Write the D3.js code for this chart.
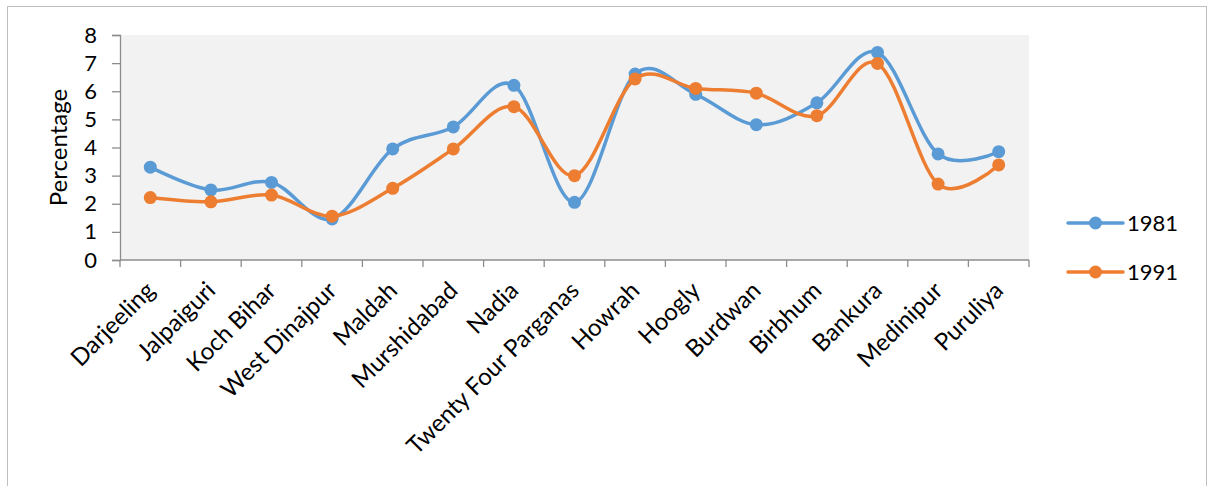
<!DOCTYPE html>
<html>
<head>
<meta charset="utf-8">
<script src="https://cdn.jsdelivr.net/npm/d3@7"></script>
<style>
  html, body { margin: 0; padding: 0; background: #ffffff; }
  svg { display: block; font-family: Lato, "Open Sans", sans-serif; }
</style>
</head>
<body>
<svg id="chart" width="1208" height="486"></svg>
<script>
// Districts of West Bengal
const districts = ["Darjeeling", "Jalpaiguri", "Koch Bihar", "West Dinajpur", "Maldah",
  "Murshidabad", "Nadia", "Twenty Four Parganas", "Howrah", "Hoogly", "Burdwan",
  "Birbhum", "Bankura", "Medinipur", "Puruliya"];

// Percentage share per census year
const values1981 = [3.30, 2.49, 2.76, 1.46, 3.95, 4.73, 6.21, 2.05, 6.61, 5.89, 4.81, 5.59, 7.38, 3.77, 3.85];
const values1991 = [2.22, 2.07, 2.31, 1.56, 2.55, 3.95, 5.45, 3.00, 6.44, 6.10, 5.93, 5.13, 6.99, 2.70, 3.38];

const yTicks = [0, 1, 2, 3, 4, 5, 6, 7, 8];

const series = [
  { name: "1981", values: values1981, color: "#5B9BD5" },
  { name: "1991", values: values1991, color: "#ED7D31" }
];

const svg = d3.select("#chart");

// outer chart frame
svg.append("rect")
  .attr("x", 7.5).attr("y", 6.5)
  .attr("width", 1199).attr("height", 490)
  .attr("fill", "#ffffff")
  .attr("stroke", "#BFBFBF")
  .attr("stroke-width", 1);

const plot = { left: 120, right: 1029, top: 35, bottom: 260 };

const x = d3.scaleBand()
  .domain(districts)
  .range([plot.left, plot.right])
  .padding(0);

const y = d3.scaleLinear()
  .domain([0, 8])
  .range([plot.bottom, plot.top]);

// plot area background
svg.append("rect")
  .attr("x", plot.left).attr("y", plot.top)
  .attr("width", plot.right - plot.left)
  .attr("height", plot.bottom - plot.top)
  .attr("fill", "#F2F2F2");

// y axis
const yAxis = svg.append("g")
  .attr("transform", `translate(${plot.left},0)`)
  .call(d3.axisLeft(y).tickValues(yTicks).tickSize(8).tickPadding(15).tickFormat(d3.format("d")));
yAxis.select(".domain").attr("stroke", "#8C8C8C").attr("stroke-width", 1.3);
yAxis.selectAll(".tick line").attr("stroke", "#8C8C8C").attr("stroke-width", 1.3);
yAxis.selectAll(".tick text")
  .attr("font-size", 22)
  .attr("fill", "#000")
  .attr("font-family", "Lato, sans-serif");

// x axis: ticks sit on the band edges
const xAxis = svg.append("g")
  .attr("transform", `translate(0,${plot.bottom})`);
xAxis.append("line")
  .attr("x1", plot.left).attr("x2", plot.right)
  .attr("y1", 0).attr("y2", 0)
  .attr("stroke", "#8C8C8C").attr("stroke-width", 1.5);
const edges = districts.map(d => x(d)).concat([x(districts[districts.length - 1]) + x.bandwidth()]);
xAxis.selectAll("line.edge")
  .data(edges)
  .join("line")
  .attr("class", "edge")
  .attr("x1", d => d).attr("x2", d => d)
  .attr("y1", 0).attr("y2", 7)
  .attr("stroke", "#8C8C8C").attr("stroke-width", 1.3);

// category labels, rotated
svg.append("g")
  .selectAll("text")
  .data(districts)
  .join("text")
  .attr("transform", d => `translate(${x(d) + x.bandwidth() / 2 + 6},${plot.bottom + 32}) rotate(-45)`)
  .attr("text-anchor", "end")
  .attr("font-size", 24)
  .attr("fill", "#000")
  .text(d => d);

// y axis title
svg.append("text")
  .attr("transform", `translate(67,${(plot.top + plot.bottom) / 2}) rotate(-90)`)
  .attr("text-anchor", "middle")
  .attr("font-size", 24)
  .attr("fill", "#000")
  .text("Percentage");

// smoothed lines with markers
const line = d3.line()
  .x((d, i) => x(districts[i]) + x.bandwidth() / 2)
  .y(d => y(d))
  .curve(d3.curveCatmullRom.alpha(0));

series.forEach(s => {
  const g = svg.append("g");
  g.append("path")
    .datum(s.values)
    .attr("d", line)
    .attr("fill", "none")
    .attr("stroke", s.color)
    .attr("stroke-width", 3.5)
    .attr("stroke-linejoin", "round");
  g.selectAll("circle")
    .data(s.values)
    .join("circle")
    .attr("cx", (d, i) => x(districts[i]) + x.bandwidth() / 2)
    .attr("cy", d => y(d))
    .attr("r", 6.5)
    .attr("fill", s.color);
});

// legend
const legend = svg.append("g");
const legendY = [223, 272];
series.forEach((s, i) => {
  const g = legend.append("g").attr("transform", `translate(0,${legendY[i]})`);
  g.append("line")
    .attr("x1", 1068).attr("x2", 1123)
    .attr("y1", 0).attr("y2", 0)
    .attr("stroke", s.color).attr("stroke-width", 3.5)
    .attr("stroke-linecap", "round");
  g.append("circle")
    .attr("cx", 1095.5).attr("cy", 0).attr("r", 6.5)
    .attr("fill", s.color);
  g.append("text")
    .attr("x", 1127).attr("y", 0)
    .attr("dy", "0.36em")
    .attr("font-size", 22)
    .attr("fill", "#000")
    .text(s.name);
});
</script>
</body>
</html>
